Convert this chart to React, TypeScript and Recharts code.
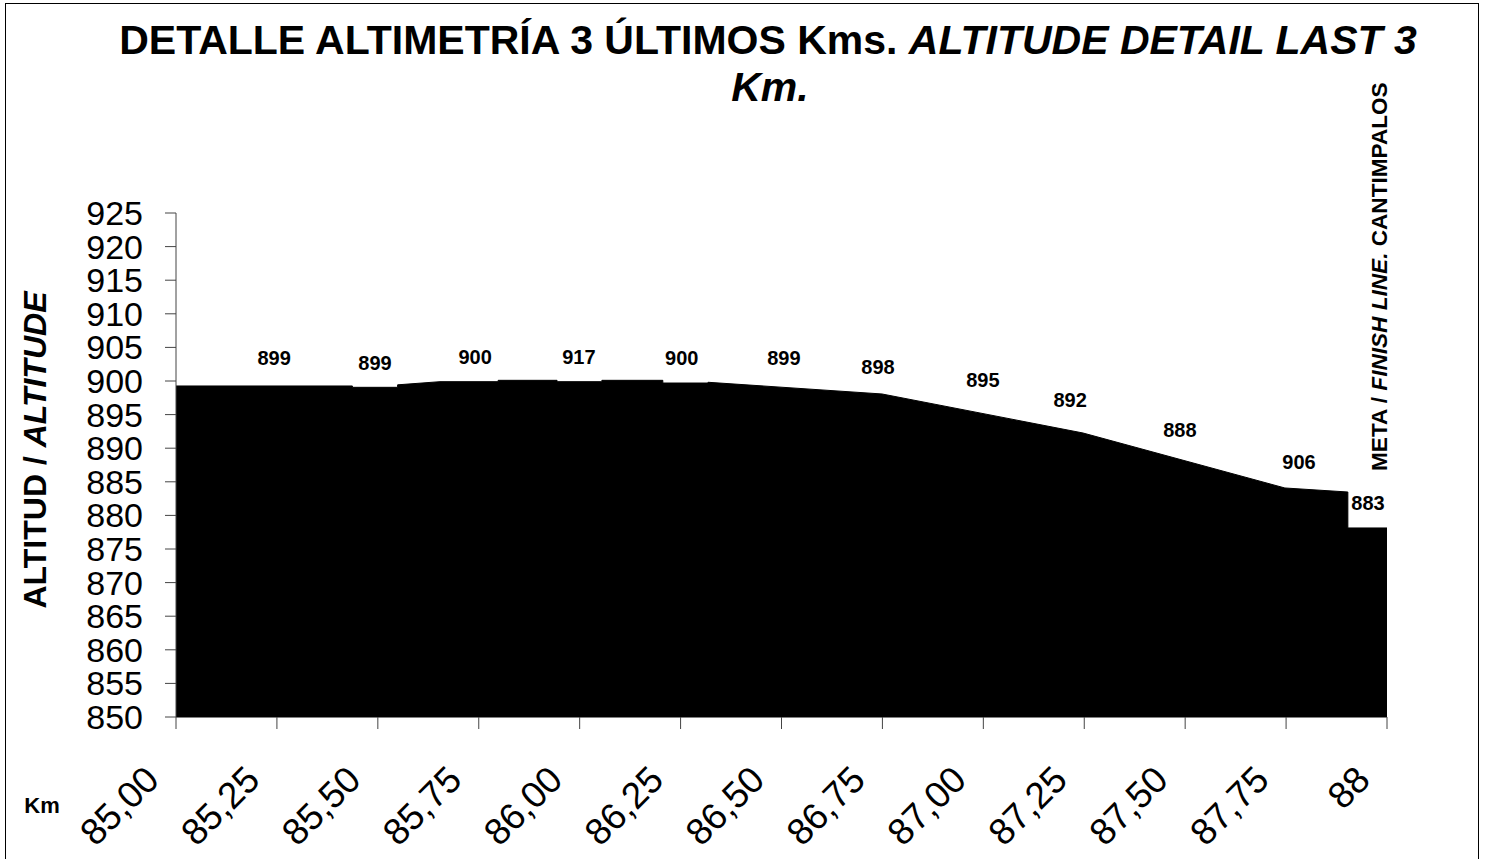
import { ComposedChart, Area, Scatter, XAxis, YAxis } from 'recharts';

// profile of the last 3 km (km, altitude in m)
const profileKm = [
  85.0, 85.437, 85.437, 85.549, 85.549, 85.654, 85.798, 85.798, 85.944, 85.944, 86.055,
  86.055, 86.206, 86.206, 86.318, 86.318, 86.749, 87.247, 87.747, 87.903, 87.903, 88.0,
];
const profileAlt = [
  899.26, 899.26, 899.06, 899.06, 899.43, 899.9, 899.9, 900.1, 900.1, 899.9, 899.9,
  900.1, 900.1, 899.7, 899.7, 899.81, 898.07, 892.26, 884.08, 883.48, 878.13, 878.13,
];

// point labels as printed on the chart
const labelKm = [85.243, 85.493, 85.741, 85.998, 86.253, 86.506, 86.739, 86.999, 87.215, 87.487, 87.782, 87.953];
const labelAlt = [903.42, 902.68, 903.57, 903.57, 903.42, 903.42, 902.08, 900.15, 897.17, 892.71, 887.95, 881.85];
const labelText = ['899', '899', '900', '917', '900', '899', '898', '895', '892', '888', '906', '883'];

const kmTicks = [85, 85.25, 85.5, 85.75, 86, 86.25, 86.5, 86.75, 87, 87.25, 87.5, 87.75, 88];
const kmTickLabels = ['85,00', '85,25', '85,50', '85,75', '86,00', '86,25', '86,50', '86,75', '87,00', '87,25', '87,50', '87,75', '88'];
const altTicks = [850, 855, 860, 865, 870, 875, 880, 885, 890, 895, 900, 905, 910, 915, 920, 925];

const profileData = profileKm.map((km, i) => ({ km, alt: profileAlt[i] }));
const labelData = labelKm.map((km, i) => ({ km, alt: labelAlt[i], text: labelText[i] }));

const W = 1489;
const H = 859;
const font = 'Arial, "Liberation Sans", Helvetica, sans-serif';

function KmTick(props: any) {
  const { x, y, payload } = props;
  const i = kmTicks.indexOf(payload.value);
  const ax = x - 15;
  const ay = y + 53;
  return (
    <text x={ax} y={ay} textAnchor="end" transform={`rotate(-45, ${ax}, ${ay})`}
      fontSize={37} fontFamily={font} fill="#000">
      {kmTickLabels[i]}
    </text>
  );
}

function PointLabel(props: any) {
  const { cx, cy, payload } = props;
  return (
    <text x={cx} y={cy} dy="0.35em" textAnchor="middle" fontSize={20} fontWeight="bold"
      fontFamily={font} fill="#000">
      {payload.text}
    </text>
  );
}

export default function App() {
  return (
    <div style={{ position: 'absolute', left: 0, top: 0, width: W, height: H, overflow: 'hidden', background: '#fff' }}>
      <div style={{ position: 'absolute', left: 5, top: 3, width: 1472, height: 900, border: '1px solid #000' }} />
      <ComposedChart width={W} height={H} data={profileData}
        margin={{ top: 213, right: 102, bottom: 42, left: 116 }}>
        <XAxis dataKey="km" type="number" domain={[85, 88]} ticks={kmTicks} interval={0}
          height={100} tickSize={12} tickMargin={0} tick={<KmTick />}
          axisLine={{ stroke: '#000' }} tickLine={{ stroke: '#444' }} />
        <YAxis type="number" domain={[850, 925]} ticks={altTicks} interval={0} width={60}
          tickSize={11} tickMargin={22} axisLine={{ stroke: '#444' }} tickLine={{ stroke: '#444' }}
          tick={{ fontSize: 34, fill: '#000', fontFamily: font }} />
        <Area type="linear" dataKey="alt" stroke="#000" fill="#000" fillOpacity={1}
          dot={false} activeDot={false} isAnimationActive={false} />
        <Scatter data={labelData} dataKey="alt" shape={<PointLabel />} isAnimationActive={false} />
      </ComposedChart>
      <svg width={W} height={H} style={{ position: 'absolute', left: 0, top: 0, pointerEvents: 'none' }}
        fontFamily={font} fill="#000">
        <text x={768} y={54} textAnchor="middle" fontSize={41} fontWeight="bold">
          DETALLE ALTIMETRÍA 3 ÚLTIMOS Kms. <tspan fontStyle="italic">ALTITUDE DETAIL LAST 3</tspan>
        </text>
        <text x={770} y={101} textAnchor="middle" fontSize={41} fontWeight="bold" fontStyle="italic">Km.</text>
        <text x={46} y={450} textAnchor="middle" fontSize={32} fontWeight="bold" transform="rotate(-90, 46, 450)">
          ALTITUD / <tspan fontStyle="italic">ALTITUDE</tspan>
        </text>
        <text x={1387} y={471} textAnchor="start" fontSize={22.6} fontWeight="bold" transform="rotate(-90, 1387, 471)">
          META / <tspan fontStyle="italic">FINISH LINE.</tspan>{'  '}CANTIMPALOS
        </text>
        <text x={42} y={813} textAnchor="middle" fontSize={22} fontWeight="bold">Km</text>
      </svg>
    </div>
  );
}
